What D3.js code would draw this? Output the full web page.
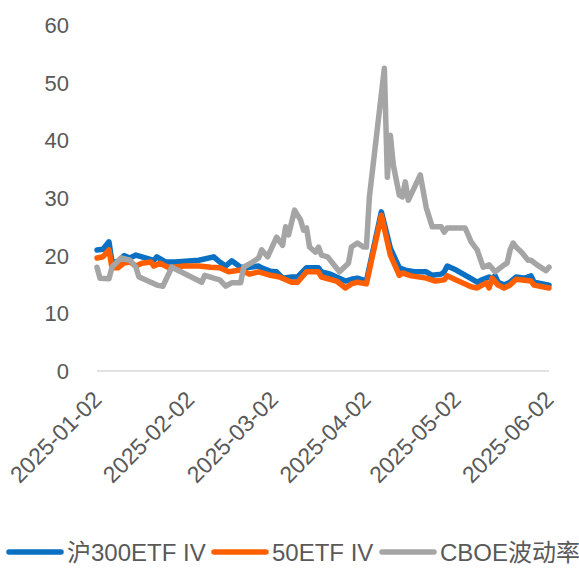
<!DOCTYPE html>
<html>
<head>
<meta charset="utf-8">
<script src="https://cdn.jsdelivr.net/npm/d3@7"></script>
<style>
  body { margin: 0; background: #fff; }
  text { font-family: "Liberation Sans", Arial, "Noto Sans CJK SC", sans-serif; fill: #595959; }
</style>
</head>
<body>
<div id="chart"></div>
<script>
// series: [date, value]
const hs300 = [
  ["2025-01-02", 21.0], ["2025-01-04", 21.1], ["2025-01-06", 22.4], ["2025-01-07", 18.9],
  ["2025-01-09", 18.9], ["2025-01-11", 20.0], ["2025-01-13", 19.6], ["2025-01-15", 20.1],
  ["2025-01-17", 19.8], ["2025-01-21", 19.2], ["2025-01-22", 19.8], ["2025-01-25", 18.9],
  ["2025-01-28", 18.9], ["2025-02-05", 19.2], ["2025-02-10", 19.8], ["2025-02-12", 18.9],
  ["2025-02-14", 18.2], ["2025-02-16", 19.1], ["2025-02-19", 18.0], ["2025-02-22", 18.0],
  ["2025-02-25", 18.2], ["2025-02-26", 17.9], ["2025-03-01", 17.3], ["2025-03-03", 17.2],
  ["2025-03-05", 16.1], ["2025-03-08", 16.3], ["2025-03-10", 16.3], ["2025-03-13", 17.9],
  ["2025-03-17", 17.9], ["2025-03-18", 17.2], ["2025-03-21", 16.8], ["2025-03-23", 16.3],
  ["2025-03-26", 15.6], ["2025-03-28", 15.9], ["2025-03-30", 16.1], ["2025-04-02", 15.6],
  ["2025-04-07", 27.6], ["2025-04-10", 21.3], ["2025-04-13", 17.9], ["2025-04-15", 17.5],
  ["2025-04-18", 17.2], ["2025-04-22", 17.2], ["2025-04-24", 16.6], ["2025-04-27", 16.8],
  ["2025-04-28", 17.2], ["2025-04-29", 18.2], ["2025-05-02", 17.5], ["2025-05-07", 16.0],
  ["2025-05-09", 15.4], ["2025-05-11", 15.9], ["2025-05-13", 16.3], ["2025-05-14", 16.0],
  ["2025-05-15", 16.5], ["2025-05-16", 15.4], ["2025-05-18", 14.9], ["2025-05-20", 15.4],
  ["2025-05-22", 16.3], ["2025-05-25", 16.1], ["2025-05-27", 16.5], ["2025-05-28", 15.4],
  ["2025-06-02", 14.9]
];

const sz50 = [
  ["2025-01-02", 19.6], ["2025-01-04", 19.8], ["2025-01-06", 21.0], ["2025-01-07", 17.9],
  ["2025-01-09", 17.9], ["2025-01-11", 18.7], ["2025-01-13", 18.9], ["2025-01-15", 18.2],
  ["2025-01-17", 18.7], ["2025-01-20", 18.9], ["2025-01-21", 18.2], ["2025-01-23", 18.7],
  ["2025-01-26", 17.9], ["2025-01-31", 18.2], ["2025-02-05", 18.2], ["2025-02-09", 18.0],
  ["2025-02-12", 17.9], ["2025-02-15", 17.2], ["2025-02-19", 17.5], ["2025-02-22", 16.8],
  ["2025-02-25", 17.2], ["2025-03-01", 16.6], ["2025-03-04", 16.3], ["2025-03-08", 15.4],
  ["2025-03-10", 15.4], ["2025-03-13", 17.2], ["2025-03-17", 17.2], ["2025-03-18", 16.3],
  ["2025-03-23", 15.6], ["2025-03-26", 14.4], ["2025-03-28", 15.1], ["2025-03-30", 15.4],
  ["2025-04-02", 15.1], ["2025-04-07", 27.0], ["2025-04-10", 20.1], ["2025-04-13", 16.6],
  ["2025-04-14", 17.0], ["2025-04-17", 16.5], ["2025-04-22", 16.1], ["2025-04-25", 15.6],
  ["2025-04-28", 15.8], ["2025-04-29", 16.5], ["2025-05-02", 15.8], ["2025-05-07", 14.6],
  ["2025-05-09", 14.4], ["2025-05-12", 15.3], ["2025-05-13", 14.4], ["2025-05-14", 16.1],
  ["2025-05-16", 14.9], ["2025-05-18", 14.4], ["2025-05-20", 14.9], ["2025-05-22", 15.9],
  ["2025-05-27", 15.6], ["2025-05-28", 14.9], ["2025-06-02", 14.4]
];

const vix = [
  ["2025-01-02", 18.0], ["2025-01-03", 16.1], ["2025-01-06", 16.0], ["2025-01-07", 18.0],
  ["2025-01-10", 19.6], ["2025-01-13", 19.2], ["2025-01-15", 18.0], ["2025-01-16", 16.3],
  ["2025-01-17", 16.1], ["2025-01-20", 15.4], ["2025-01-22", 14.9], ["2025-01-24", 14.7],
  ["2025-01-27", 18.0], ["2025-02-06", 15.4], ["2025-02-07", 16.6], ["2025-02-10", 16.1],
  ["2025-02-12", 15.8], ["2025-02-14", 14.7], ["2025-02-16", 15.3], ["2025-02-19", 15.3],
  ["2025-02-20", 18.0], ["2025-02-23", 18.9], ["2025-02-25", 19.6], ["2025-02-26", 21.0],
  ["2025-02-28", 19.8], ["2025-03-03", 23.2], ["2025-03-05", 21.8], ["2025-03-06", 25.0],
  ["2025-03-07", 23.6], ["2025-03-09", 27.9], ["2025-03-11", 26.2], ["2025-03-12", 24.4],
  ["2025-03-13", 24.8], ["2025-03-14", 21.5], ["2025-03-16", 20.6], ["2025-03-17", 21.5],
  ["2025-03-18", 20.1], ["2025-03-20", 19.8], ["2025-03-24", 17.2], ["2025-03-27", 18.7],
  ["2025-03-28", 21.5], ["2025-03-30", 22.2], ["2025-04-01", 21.5], ["2025-04-02", 21.5],
  ["2025-04-03", 30.2], ["2025-04-08", 52.5], ["2025-04-09", 33.6], ["2025-04-10", 40.9],
  ["2025-04-11", 35.7], ["2025-04-13", 30.5], ["2025-04-14", 30.2], ["2025-04-15", 32.8],
  ["2025-04-16", 29.6], ["2025-04-20", 34.0], ["2025-04-22", 28.3], ["2025-04-24", 25.0],
  ["2025-04-27", 25.0], ["2025-04-28", 24.1], ["2025-04-29", 24.8], ["2025-05-05", 24.8],
  ["2025-05-07", 22.4], ["2025-05-09", 21.0], ["2025-05-11", 18.0], ["2025-05-13", 18.4],
  ["2025-05-15", 17.2], ["2025-05-18", 18.4], ["2025-05-19", 18.7], ["2025-05-20", 21.0],
  ["2025-05-21", 22.2], ["2025-05-22", 21.5], ["2025-05-24", 20.5], ["2025-05-26", 19.2],
  ["2025-05-27", 19.2], ["2025-05-29", 18.4], ["2025-06-01", 17.4], ["2025-06-02", 18.0]
];

const tickDates = ["2025-01-02", "2025-02-02", "2025-03-02", "2025-04-02", "2025-05-02", "2025-06-02"];
const yTicks = [0, 10, 20, 30, 40, 50, 60];

const seriesNames = ["沪300ETF IV", "50ETF IV", "CBOE波动率"];
const seriesColors = ["#0A70C4", "#FF5F00", "#A5A5A5"];

const width = 579;
const height = 568;
const parse = d3.timeParse("%Y-%m-%d");

const x = d3.scaleTime()
    .domain([parse("2025-01-02"), parse("2025-06-02")])
    .range([97, 549]);

const y = d3.scaleLinear()
    .domain([0, 60])
    .range([371, 25]);

const svg = d3.select("#chart").append("svg")
    .attr("width", width)
    .attr("height", height);

// y labels (no axis line, no grid)
svg.append("g")
    .selectAll("text")
    .data(yTicks)
    .enter()
    .append("text")
    .attr("x", 69)
    .attr("y", d => y(d))
    .attr("dy", "0.36em")
    .attr("text-anchor", "end")
    .style("font-size", "22px")
    .text(d => d);

// baseline
svg.append("line")
    .attr("x1", x.range()[0])
    .attr("x2", x.range()[1])
    .attr("y1", y(0))
    .attr("y2", y(0))
    .attr("stroke", "#D9D9D9")
    .attr("stroke-width", 1.5);

// x labels, rotated
svg.append("g")
    .selectAll("text")
    .data(tickDates)
    .enter()
    .append("text")
    .attr("transform", d => `translate(${x(parse(d)) + 6},${y(0) + 30}) rotate(-45)`)
    .attr("text-anchor", "end")
    .style("font-size", "23px")
    .text(d => d);

const line = d3.line()
    .x(d => x(parse(d[0])))
    .y(d => y(d[1]));

[hs300, sz50, vix].forEach((s, i) => {
    svg.append("path")
        .datum(s)
        .attr("fill", "none")
        .attr("stroke", seriesColors[i])
        .attr("stroke-width", 5.5)
        .attr("stroke-linejoin", "round")
        .attr("stroke-linecap", "round")
        .attr("d", line);
});

// legend
const legendX = [9, 214, 382];
const lg = svg.append("g")
    .selectAll("g")
    .data(seriesNames)
    .enter()
    .append("g")
    .attr("transform", (d, i) => `translate(${legendX[i]},552)`);

lg.append("line")
    .attr("x1", 0)
    .attr("x2", 52)
    .attr("stroke", (d, i) => seriesColors[i])
    .attr("stroke-width", 5.5)
    .attr("stroke-linecap", "round");

lg.append("text")
    .attr("x", 58)
    .attr("dy", "0.36em")
    .style("font-size", "24px")
    .text(d => d);
</script>
</body>
</html>
